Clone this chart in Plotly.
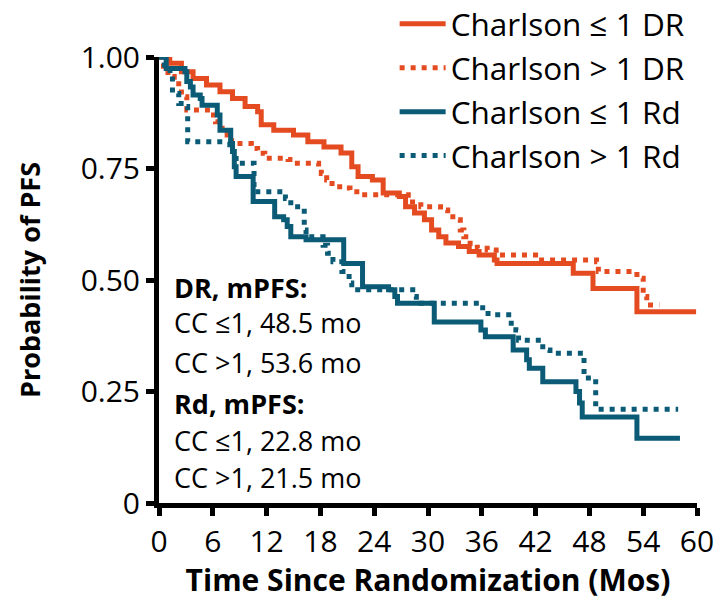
import plotly.graph_objects as go

# ---- data (months, probability of PFS) ----
dr_le1_t = [0, 1.2, 2.5, 3.8, 5.3, 6.8, 8.2, 9.6, 11.0, 11.4, 12.8, 15.0, 16.6, 18.4, 20.3, 21.5, 22.2,
            23.8, 25.0, 26.8, 27.5, 28.5, 29.6, 30.4, 31.2, 32.0, 33.4, 34.6, 35.7, 37.4, 37.7, 46.2,
            48.4, 53.3, 59.9]
dr_le1_p = [1.0, 0.986, 0.967, 0.952, 0.937, 0.922, 0.907, 0.889, 0.877, 0.848, 0.836, 0.825, 0.81,
            0.798, 0.785, 0.754, 0.732, 0.724, 0.695, 0.687, 0.664, 0.65, 0.635, 0.612, 0.597, 0.583,
            0.575, 0.564, 0.556, 0.545, 0.537, 0.515, 0.481, 0.429, 0.429]

dr_gt1_t = [0, 0.5, 1.0, 1.7, 2.2, 2.5, 3.1, 5.8, 6.3, 7.0, 7.6, 8.1, 10.3, 11.0, 11.8, 14.4, 15.1,
            17.8, 18.1, 18.7, 19.3, 20.5, 21.3, 22.6, 27.8, 29.2, 31.4, 32.2, 33.2, 33.6, 34.0, 34.7,
            35.5, 36.6, 37.6, 42.0, 48.8, 49.0, 53.3, 54.0, 54.4, 55.8]
dr_gt1_p = [1.0, 0.979, 0.956, 0.948, 0.93, 0.911, 0.881, 0.87, 0.855, 0.84, 0.825, 0.806, 0.795,
            0.784, 0.773, 0.77, 0.762, 0.754, 0.739, 0.724, 0.709, 0.706, 0.698, 0.691, 0.675, 0.664,
            0.657, 0.642, 0.635, 0.612, 0.597, 0.582, 0.571, 0.567, 0.556, 0.545, 0.541, 0.519,
            0.504, 0.463, 0.444, 0.444]

rd_le1_t = [0, 0.8, 2.9, 3.1, 3.5, 3.8, 4.6, 4.8, 6.5, 6.8, 8.0, 8.2, 8.4, 8.6, 10.5, 12.9, 13.9,
            14.3, 14.7, 16.4, 20.6, 22.7, 25.6, 26.3, 26.6, 30.7, 35.9, 36.4, 39.5, 41.0, 41.3, 42.8,
            46.5, 46.9, 47.2, 53.3, 58.1]
rd_le1_p = [1.0, 0.974, 0.967, 0.945, 0.933, 0.915, 0.907, 0.892, 0.87, 0.836, 0.806, 0.788, 0.754,
            0.732, 0.676, 0.642, 0.635, 0.62, 0.597, 0.59, 0.537, 0.485, 0.478, 0.463, 0.448, 0.406,
            0.388, 0.373, 0.343, 0.321, 0.302, 0.272, 0.25, 0.224, 0.193, 0.145, 0.145]

rd_gt1_t = [0, 0.6, 1.5, 2.2, 2.9, 3.2, 7.9, 8.2, 8.6, 10.6, 14.1, 14.7, 16.2, 16.4, 18.3, 18.8,
            19.4, 20.4, 21.2, 21.5, 28.3, 28.7, 36.1, 37.2, 39.0, 39.8, 40.1, 42.8, 43.6, 47.4, 48.7,
            57.9]
rd_gt1_p = [1.0, 0.97, 0.918, 0.896, 0.889, 0.81, 0.803, 0.78, 0.762, 0.698, 0.683, 0.664, 0.612,
            0.597, 0.578, 0.56, 0.541, 0.519, 0.493, 0.478, 0.463, 0.448, 0.425, 0.422, 0.403, 0.388,
            0.365, 0.343, 0.336, 0.28, 0.21, 0.21]

x_ticks = [0, 6, 12, 18, 24, 30, 36, 42, 48, 54, 60]
y_ticks = [0, 0.25, 0.5, 0.75, 1.0]
y_tick_labels = ["0", "0.25", "0.50", "0.75", "1.00"]

mpfs_lines = ["<b>DR, mPFS:</b>", "CC ≤1, 48.5 mo", "CC >1, 53.6 mo",
              "<b>Rd, mPFS:</b>", "CC ≤1, 22.8 mo", "CC >1, 21.5 mo"]
mpfs_y = [0.484, 0.404, 0.316, 0.224, 0.141, 0.058]

ORANGE = "#E44B20"
TEAL = "#0B5B77"
FONT = "Open Sans"

fig = go.Figure()
series = [
    ("Charlson ≤ 1 DR", dr_le1_t, dr_le1_p, ORANGE, "solid"),
    ("Charlson > 1 DR", dr_gt1_t, dr_gt1_p, ORANGE, "5px,6px"),
    ("Charlson ≤ 1 Rd", rd_le1_t, rd_le1_p, TEAL, "solid"),
    ("Charlson > 1 Rd", rd_gt1_t, rd_gt1_p, TEAL, "5px,6px"),
]
for name, t, p, col, dash in series:
    fig.add_trace(go.Scatter(
        x=t, y=p, mode="lines", name=name,
        line=dict(color=col, width=5, dash=dash, shape="hv"),
    ))

for txt, yy in zip(mpfs_lines, mpfs_y):
    fig.add_annotation(x=1.4, y=yy, xref="x", yref="y", text=txt, showarrow=False,
                       xanchor="left", yanchor="middle",
                       font=dict(family=FONT, size=27, color="black"))

fig.update_layout(
    width=717, height=600,
    margin=dict(l=159, r=20, t=57, b=97, pad=0, autoexpand=False),
    plot_bgcolor="white", paper_bgcolor="white",
    font=dict(family=FONT, color="black"),
    showlegend=True,
    legend=dict(x=0.438, y=1.135, xref="paper", yref="paper", xanchor="left", yanchor="top",
                bgcolor="rgba(0,0,0,0)", font=dict(family=FONT, size=31.5, color="black"),
                itemwidth=46),
    xaxis=dict(range=[0, 60], tickvals=x_ticks, showline=True, linewidth=5, linecolor="black",
               ticks="outside", ticklen=8, tickwidth=5, tickcolor="black", showgrid=False,
               zeroline=False, tickfont=dict(family=FONT, size=30),
               title=dict(text="<b>Time Since Randomization (Mos)</b>",
                          font=dict(family=FONT, size=30), standoff=5)),
    yaxis=dict(range=[0, 1.0], tickvals=y_ticks, ticktext=y_tick_labels, showline=True,
               linewidth=5, linecolor="black", ticks="outside", ticklen=8, tickwidth=5,
               tickcolor="black", showgrid=False, zeroline=False,
               tickfont=dict(family=FONT, size=30),
               title=dict(text="<b>Probability of PFS</b>", font=dict(family=FONT, size=27),
                          standoff=34)),
)

fig.write_html("out.html", config={"displayModeBar": False},
               post_script="document.body.style.margin='0px';")
